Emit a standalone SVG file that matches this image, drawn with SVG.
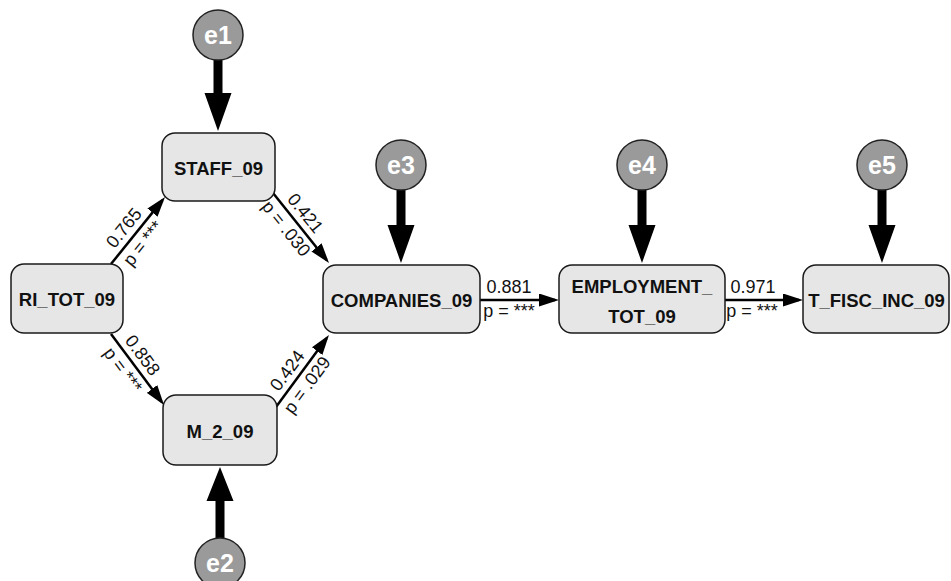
<svg xmlns="http://www.w3.org/2000/svg" width="951" height="581" viewBox="0 0 951 581">
<style>
.box{fill:#e6e6e6;stroke:#1a1a1a;stroke-width:1.5}
.err{fill:#9a9a9a;stroke:#222;stroke-width:1.5}
.lbl{font-family:"Liberation Sans",Arial,sans-serif;font-weight:bold;font-size:18.5px;fill:#111;text-anchor:middle}
.elbl{font-family:"Liberation Sans",Arial,sans-serif;font-weight:bold;font-size:25px;fill:#fff;text-anchor:middle}
.coef{font-family:"Liberation Sans",Arial,sans-serif;font-size:18px;fill:#111;text-anchor:middle}
.thin{stroke:#000;stroke-width:2.5;fill:none;marker-end:url(#ah)}
.thick{fill:#000;stroke:none}
</style>
<defs>
<marker id="ah" viewBox="0 0 20 13" markerWidth="20" markerHeight="13" refX="16" refY="6.5" orient="auto" markerUnits="userSpaceOnUse">
<path d="M0,0 L20,6.5 L0,13 z" fill="#000"/>
</marker>
</defs>
<g id="connectors">
<path class="thick" d="M213.5,60 V93 H204.5 L218,131 L231.5,93 H222.5 V60 Z"/>
<path class="thick" d="M396.5,190 V225 H387.5 L401,263 L414.5,225 H405.5 V190 Z"/>
<path class="thick" d="M637.5,190 V225 H628.5 L642,263 L655.5,225 H646.5 V190 Z"/>
<path class="thick" d="M877.5,190 V225 H868.5 L882,263 L895.5,225 H886.5 V190 Z"/>
<path class="thick" d="M215.5,538 V501 H206.5 L220,467 L233.5,501 H224.5 V538 Z"/>
<line class="thin" x1="111" y1="264" x2="162.5" y2="200.1"/>
<line class="thin" x1="273" y1="193" x2="326.5" y2="259.9"/>
<line class="thin" x1="111" y1="334" x2="161.6" y2="401.8"/>
<line class="thin" x1="276" y1="407" x2="326.6" y2="338.2"/>
<line class="thin" x1="480" y1="300" x2="555" y2="300"/>
<line class="thin" x1="725" y1="300" x2="799" y2="300"/>
<g transform="translate(133.6,235.9) rotate(-51.1)"><text class="coef" x="0" y="-6.5">0.765</text><text class="coef" x="0" y="18">p = ***</text></g>
<g transform="translate(295.5,221.1) rotate(51.3)"><text class="coef" x="0" y="-6.5">0.421</text><text class="coef" x="0" y="18">p = .030</text></g>
<g transform="translate(132.5,362.8) rotate(53.3)"><text class="coef" x="0" y="-6.5">0.858</text><text class="coef" x="0" y="18">p = ***</text></g>
<g transform="translate(297.4,378) rotate(-53.6)"><text class="coef" x="0" y="-6.5">0.424</text><text class="coef" x="0" y="18">p = .029</text></g>
<text class="coef" x="509" y="292.5">0.881</text>
<text class="coef" x="509" y="317">p = ***</text>
<text class="coef" x="753" y="292.5">0.971</text>
<text class="coef" x="752" y="317">p = ***</text>
</g>
<g id="e1"><circle class="err" cx="218" cy="35" r="25"/><text class="elbl" x="218" y="44">e1</text></g>
<g id="e2"><circle class="err" cx="220" cy="563" r="25"/><text class="elbl" x="220" y="572">e2</text></g>
<g id="e3"><circle class="err" cx="401" cy="165" r="25"/><text class="elbl" x="401" y="174">e3</text></g>
<g id="e4"><circle class="err" cx="642" cy="165" r="25"/><text class="elbl" x="642" y="174">e4</text></g>
<g id="e5"><circle class="err" cx="882" cy="165" r="25"/><text class="elbl" x="882" y="174">e5</text></g>
<g id="STAFF_09"><rect class="box" x="162" y="133" width="113" height="68" rx="13"/><text class="lbl" x="218.5" y="175">STAFF_09</text></g>
<g id="RI_TOT_09"><rect class="box" x="11" y="264" width="112" height="69" rx="13"/><text class="lbl" x="67" y="306">RI_TOT_09</text></g>
<g id="M_2_09"><rect class="box" x="163" y="395" width="114" height="70" rx="13"/><text class="lbl" x="220" y="438">M_2_09</text></g>
<g id="COMPANIES_09"><rect class="box" x="323" y="265" width="157" height="68" rx="13"/><text class="lbl" x="401.5" y="307">COMPANIES_09</text></g>
<g id="EMPLOYMENT_TOT_09"><rect class="box" x="559" y="265" width="166" height="68" rx="13"/><text class="lbl" x="642" y="293">EMPLOYMENT_</text><text class="lbl" x="642" y="323">TOT_09</text></g>
<g id="T_FISC_INC_09"><rect class="box" x="803" y="265" width="146" height="68" rx="13"/><text class="lbl" x="876.5" y="307">T_FISC_INC_09</text></g>
</svg>
